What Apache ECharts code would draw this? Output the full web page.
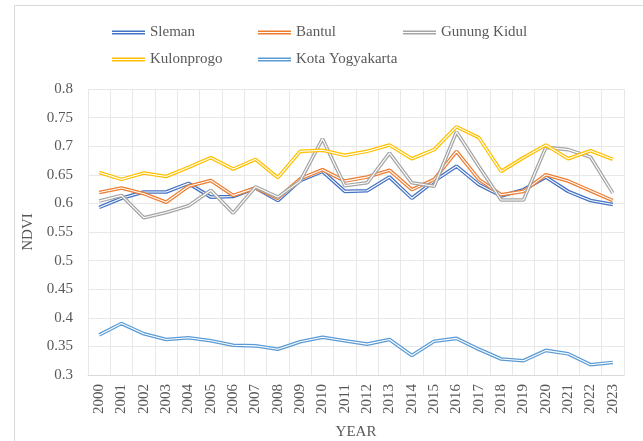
<!DOCTYPE html>
<html>
<head>
<meta charset="utf-8">
<script src="https://cdn.jsdelivr.net/npm/echarts@6/dist/echarts.min.js"></script>
<style>
html,body{margin:0;padding:0;background:#fff;}
#chart{width:643px;height:441px;}
</style>
</head>
<body>
<div id="chart"></div>
<script>
var years = ['2000','2001','2002','2003','2004','2005','2006','2007','2008','2009','2010','2011',
	'2012','2013','2014','2015','2016','2017','2018','2019','2020','2021','2022','2023'];

var sleman = [0.593,0.609,0.620,0.620,0.635,0.611,0.612,0.627,0.605,0.640,0.656,0.621,
	0.622,0.646,0.609,0.639,0.665,0.633,0.613,0.624,0.646,0.621,0.605,0.598];
var bantul = [0.619,0.627,0.617,0.602,0.630,0.640,0.614,0.627,0.609,0.643,0.659,0.639,
	0.646,0.658,0.624,0.642,0.691,0.642,0.615,0.621,0.650,0.639,0.622,0.605];
var gunungKidul = [0.604,0.614,0.575,0.584,0.596,0.623,0.583,0.629,0.611,0.639,0.713,0.631,
	0.636,0.688,0.636,0.630,0.725,0.665,0.606,0.606,0.698,0.694,0.681,0.618];
var kulonprogo = [0.654,0.642,0.653,0.647,0.663,0.680,0.660,0.677,0.645,0.691,0.693,0.684,
	0.691,0.702,0.678,0.694,0.734,0.715,0.656,0.680,0.702,0.678,0.692,0.677];
var kotaYogyakarta = [0.370,0.390,0.372,0.362,0.365,0.360,0.352,0.351,0.345,0.358,0.366,0.360,
	0.354,0.362,0.334,0.359,0.364,0.345,0.328,0.325,0.343,0.337,0.318,0.322];

var names = ['Sleman','Bantul','Gunung Kidul','Kulonprogo','Kota Yogyakarta'];
var values = [sleman,bantul,gunungKidul,kulonprogo,kotaYogyakarta];
var colors = ['#4472C4','#ED7D31','#A5A5A5','#FFC000','#5B9BD5'];

var txt = '#595959';
var serif = '"Liberation Serif","Times New Roman",serif';
var dbl = 'path://M0,0H33V1.4H0Z M0,2.6H33V4H0Z';

// each series = thick coloured line + thin white line on top (double line look)
var series = [];
for (var i = 0; i < names.length; i++) {
	series.push({
		name: names[i],
		type: 'line',
		data: values[i],
		symbol: 'none',
		color: colors[i],
		lineStyle: {width: 3.6, color: colors[i]}
	});
	series.push({
		name: names[i] + '_in',
		type: 'line',
		data: values[i],
		symbol: 'none',
		silent: true,
		lineStyle: {width: 1.1, color: '#fff'}
	});
}

// legend positions (one legend per item, like the excel layout)
var legendPos = [[107,20],[253,20],[398,20],[107,47],[253,47]];
var legends = [];
for (var j = 0; j < names.length; j++) {
	legends.push({
		data: [names[j]],
		left: legendPos[j][0],
		top: legendPos[j][1],
		icon: dbl,
		itemWidth: 33,
		itemHeight: 4,
		itemGap: 0,
		selectedMode: false,
		textStyle: {color: txt, fontFamily: serif, fontSize: 15, padding: [0,0,0,0]}
	});
}

var myChart = echarts.init(document.getElementById('chart'));
var option = {
	backgroundColor: '#fff',
	animation: false,
	graphic: [{
		type: 'rect',
		shape: {x: 14.5, y: 5.5, width: 800, height: 600},
		style: {fill: 'none', stroke: '#D9D9D9', lineWidth: 1},
		silent: true,
		z: -1
	}],
	legend: legends,
	grid: {left: 88, right: 19, top: 89, bottom: 66, containLabel: false, outerBoundsMode: 'none'},
	xAxis: {
		type: 'category',
		data: years,
		boundaryGap: true,
		name: 'YEAR',
		nameLocation: 'middle',
		nameGap: 50,
		nameTextStyle: {color: txt, fontFamily: serif, fontSize: 15},
		axisLine: {lineStyle: {color: '#D9D9D9'}},
		axisTick: {show: false},
		axisLabel: {rotate: 90, color: txt, fontFamily: serif, fontSize: 15, margin: 9, interval: 0},
		splitLine: {show: true, lineStyle: {color: '#E8E8E8'}}
	},
	yAxis: {
		type: 'value',
		min: 0.3,
		max: 0.8,
		interval: 0.05,
		name: 'NDVI',
		nameLocation: 'middle',
		nameGap: 43,
		nameTextStyle: {color: txt, fontFamily: serif, fontSize: 15},
		axisLine: {show: false},
		axisTick: {show: false},
		axisLabel: {
			color: txt, fontFamily: serif, fontSize: 15, margin: 15,
			formatter: function(v){ return String(+v.toFixed(2)); }
		},
		splitLine: {lineStyle: {color: '#E8E8E8'}}
	},
	series: series
};
myChart.setOption(option);
</script>
</body>
</html>
